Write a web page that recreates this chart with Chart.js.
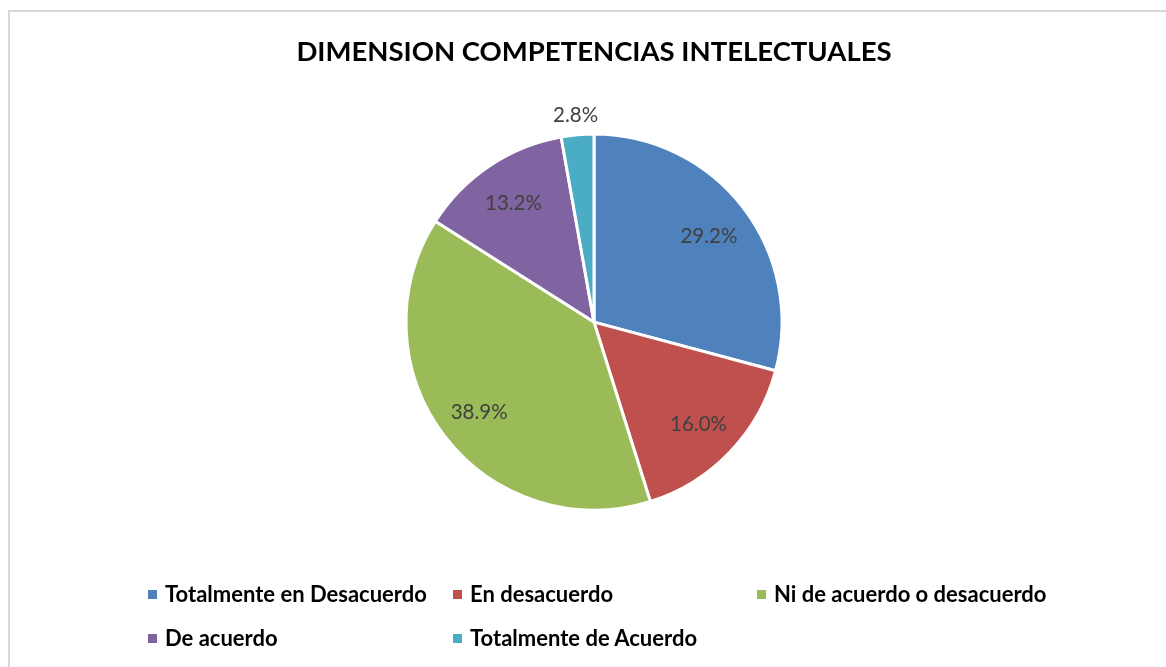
<!DOCTYPE html>
<html>
<head>
<meta charset="utf-8">
<script src="https://cdn.jsdelivr.net/npm/chart.js@4/dist/chart.umd.min.js"></script>
<style>
  html, body { margin:0; padding:0; background:#fff; }
  #wrap { position:relative; width:1166px; height:667px; overflow:hidden; }
  #frame { position:absolute; left:8px; top:10px; width:1170px; height:670px; border-top:2px solid #d9d9d9; border-left:2px solid #d9d9d9; box-sizing:border-box; }
  canvas { position:absolute; left:0; top:0; }
  .leg { position:absolute; font-family: Lato, "Open Sans", sans-serif; font-weight:bold; font-size:22px; color:#000; white-space:nowrap; line-height:24px; }
  .leg i { position:absolute; left:0; top:8px; width:9px; height:9px; }
  .leg span { position:absolute; left:17px; top:0; }
</style>
</head>
<body>
<div id="wrap">
  <div id="frame"></div>
  <canvas id="c" width="1166" height="667"></canvas>
  <div id="legend"></div>
</div>
<script>
const titleText = "DIMENSION COMPETENCIAS INTELECTUALES";
const categories = ["Totalmente en Desacuerdo", "En desacuerdo", "Ni de acuerdo o desacuerdo", "De acuerdo", "Totalmente de Acuerdo"];
const values = [29.2, 16.0, 38.9, 13.2, 2.8];
const colors = ["#4F81BD", "#C0504D", "#9BBB59", "#8064A2", "#4BACC6"];
const legendPos = [[148, 582], [453, 582], [757, 582], [148, 626], [453, 626]];

// HTML legend
const legendEl = document.getElementById('legend');
categories.forEach((c, i) => {
  const d = document.createElement('div');
  d.className = 'leg';
  d.style.left = legendPos[i][0] + 'px';
  d.style.top = legendPos[i][1] + 'px';
  d.innerHTML = '<i style="background:' + colors[i] + '"></i><span></span>';
  d.querySelector('span').textContent = c;
  legendEl.appendChild(d);
});

const labelPlugin = {
  id: 'pctLabels',
  afterDatasetsDraw(chart) {
    const ctx = chart.ctx;
    const meta = chart.getDatasetMeta(0);
    const data = chart.data.datasets[0].data;
    ctx.save();
    ctx.font = '20.5px Lato, "Open Sans", sans-serif';
    ctx.fillStyle = '#404040';
    ctx.textAlign = 'center';
    ctx.textBaseline = 'middle';
    meta.data.forEach((arc, i) => {
      const p = arc.getProps(['x', 'y', 'startAngle', 'endAngle', 'outerRadius'], true);
      const mid = (p.startAngle + p.endAngle) / 2;
      const r = data[i] < 5 ? p.outerRadius + 22 : p.outerRadius * 0.77;
      const x = p.x + Math.cos(mid) * r;
      const y = p.y + Math.sin(mid) * r + 2;
      ctx.fillText(data[i].toFixed(1) + '%', x, y);
    });
    ctx.restore();
  }
};

new Chart(document.getElementById('c'), {
  type: 'pie',
  data: {
    labels: categories,
    datasets: [{
      data: values,
      backgroundColor: colors,
      borderColor: '#ffffff',
      borderWidth: 3
    }]
  },
  options: {
    responsive: false,
    animation: false,
    radius: 188,
    layout: { padding: { top: 0, bottom: 100, left: 22, right: 0 } },
    plugins: {
      legend: { display: false },
      tooltip: { enabled: false },
      title: {
        display: true,
        text: titleText,
        color: '#000',
        font: { family: 'Lato, "Open Sans", sans-serif', size: 27.5, weight: 'bold', lineHeight: 1.2 },
        padding: { top: 36, bottom: 8.2 }
      }
    }
  },
  plugins: [labelPlugin]
});
</script>
</body>
</html>
